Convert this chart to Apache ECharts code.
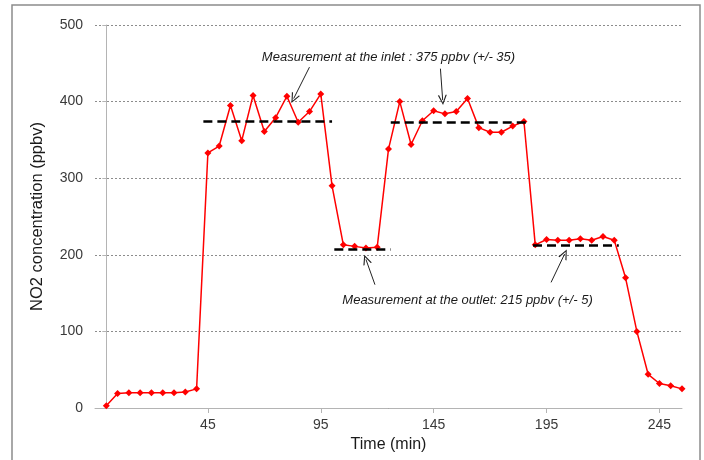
<!DOCTYPE html>
<html>
<head>
<meta charset="utf-8">
<script src="https://cdn.jsdelivr.net/npm/echarts@6/dist/echarts.min.js"></script>
<style>
  html, body { margin: 0; padding: 0; background: #fff; }
  #chart { width: 704px; height: 460px; }
</style>
</head>
<body>
<div id="chart"></div>
<script>
// 时间 (min)
const times = [0, 5, 10, 15, 20, 25, 30, 35, 40, 45, 50, 55, 60, 65, 70, 75, 80, 85, 90, 95,
  100, 105, 110, 115, 120, 125, 130, 135, 140, 145, 150, 155, 160, 165, 170, 175, 180, 185,
  190, 195, 200, 205, 210, 215, 220, 225, 230, 235, 240, 245, 250, 255];
// NO2 浓度 (ppbv)
const no2 = [3, 19, 20, 20, 20, 20, 20, 21, 25, 333, 342, 395, 349, 408, 361, 379, 407, 373, 387, 410,
  290, 213, 211, 209, 210, 338, 400, 344, 375, 388, 384, 387, 404, 366, 360, 360, 368, 374,
  213, 220, 219, 219, 221, 219, 224, 219, 170, 100, 44, 32, 29, 25];
const xTicks = [45, 95, 145, 195, 245];

// 平均值虚线 [起, 止, 值]
const meanLines = [
  [43, 100, 375],
  [101, 126, 207],
  [126, 186, 373],
  [189, 227, 212],
];
// 箭头 [起t, 起值, 止t, 止值]
const arrows = [
  [90, 445, 83, 404],
  [148, 443, 149, 402],
  [119, 161, 115, 194],
  [197, 164, 203, 201],
];
// 注释文字 [t, 值, 文本]
const notes = [
  [125, 458, 'Measurement at the inlet : 375 ppbv (+/- 35)'],
  [160, 140, 'Measurement at the outlet: 215 ppbv (+/- 5)'],
];

const chart = echarts.init(document.getElementById('chart'));
const font = 'Liberation Sans, Arial, sans-serif';

const markLineData = meanLines
  .map(m => [
    { coord: [m[0], m[2]], lineStyle: { color: '#000', width: 2.5, type: [9, 5] } },
    { coord: [m[1], m[2]] },
  ])
  .concat(
    arrows.map(a => [
      { coord: [a[0], a[1]], lineStyle: { color: '#222', width: 1, type: 'solid' }, symbol: 'none' },
      { coord: [a[2], a[3]], symbol: 'path://M5,0 L10,10 L8.6,10 L5,2.6 L1.4,10 L0,10 Z', symbolSize: [9, 10] },
    ])
  );

const option = {
  animation: false,
  graphic: [
    {
      type: 'rect',
      shape: { x: 12, y: 5, width: 688, height: 470 },
      style: { fill: 'none', stroke: '#8c8c8c', lineWidth: 1.5 },
      silent: true,
    },
  ],
  grid: { left: 95, right: 22, top: 25, bottom: 52 },
  xAxis: {
    type: 'value',
    min: -5,
    max: 255,
    name: 'Time (min)',
    nameLocation: 'middle',
    nameGap: 29,
    nameTextStyle: { fontFamily: font, fontSize: 16, color: '#1a1a1a' },
    axisLine: { lineStyle: { color: '#b4b4b4' } },
    axisTick: { show: true, customValues: xTicks, length: 5, inside: false, lineStyle: { color: '#b4b4b4' } },
    axisLabel: { customValues: xTicks, fontFamily: font, fontSize: 14, color: '#3a3a3a', margin: 10 },
    splitLine: { show: false },
  },
  yAxis: {
    type: 'value',
    min: 0,
    max: 500,
    interval: 100,
    name: 'NO2 concentration (ppbv)',
    nameLocation: 'middle',
    nameGap: 49,
    nameTextStyle: { fontFamily: font, fontSize: 16.5, color: '#1a1a1a' },
    axisLine: { show: true, lineStyle: { color: '#b4b4b4' } },
    axisTick: { show: true, length: 4, lineStyle: { color: '#b4b4b4' } },
    axisLabel: { fontFamily: font, fontSize: 14, color: '#3a3a3a', margin: 12 },
    splitLine: { lineStyle: { color: '#8c8c8c', type: [2, 2], width: 1 } },
  },
  series: [
    {
      type: 'line',
      data: times.map((t, i) => [t, no2[i]]),
      symbol: 'diamond',
      symbolSize: 7,
      lineStyle: { color: '#ff0000', width: 1.5 },
      itemStyle: { color: '#ff0000' },
      z: 3,
      markLine: {
        silent: true,
        symbol: 'none',
        label: { show: false },
        data: markLineData,
      },
      markPoint: {
        silent: true,
        symbolSize: 0,
        data: notes.map(n => ({
          coord: [n[0], n[1]],
          label: {
            show: true,
            position: 'inside',
            formatter: n[2],
            fontFamily: font,
            fontStyle: 'italic',
            fontSize: 13,
            color: '#1a1a1a',
          },
        })),
      },
    },
  ],
};

chart.setOption(option);
</script>
</body>
</html>
